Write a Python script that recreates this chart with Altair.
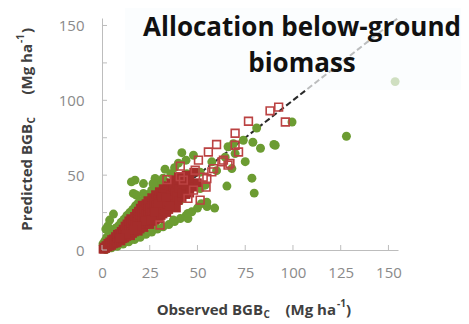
import altair as alt
import pandas as pd

# ---- data ----
# dense cloud of predicted-vs-observed points (red, filled look)
cloud_x = [0.5, 1, 1, 2, 2, 3, 3, 4, 4, 5, 5, 5, 6, 6, 7, 7, 7, 8, 8, 8, 9, 9,
           10, 10, 10, 11, 11, 11, 12, 12, 12, 13, 13, 13, 14, 14, 14, 14,
           15, 15, 15, 15, 16, 16, 16, 17, 17, 17, 18, 18, 18, 19, 19, 19, 19,
           20, 20, 20, 20, 21, 21, 21, 21, 22, 22, 22, 23, 23, 23,
           24, 24, 24, 24, 24, 25, 25, 25, 26, 26, 26, 26, 27, 27, 27,
           28, 28, 28, 28, 29, 29, 29, 30, 30, 30, 30, 31, 31, 31,
           32, 32, 32, 32, 33, 33, 33, 34, 34, 34, 35, 35, 35, 36, 36, 36,
           37, 37, 37, 38, 38, 38, 39, 39, 39, 40, 40, 40, 42, 42, 42,
           44, 44, 44, 46, 46, 48, 48, 50,
           22.5, 25.5, 27.5, 29.5, 31.5, 33.5, 35.5, 18.5, 16.5, 12.5, 9.5]
cloud_y = [0.5, 0.5, 2, 1, 3, 2, 4.5, 2.5, 5.5, 3, 5, 7, 4, 7.5, 4.5, 6.5, 9, 5, 8, 10.5, 6.5, 11,
           6, 9, 12.5, 7.5, 11, 14, 8, 12.5, 16, 9, 14, 17.5, 10, 13, 16, 19.5,
           9.5, 12, 18, 21, 11, 15, 20, 12, 17, 22.5, 13, 19, 24.5, 12.5, 15.5, 21, 26,
           14, 18, 23, 28, 16, 20, 25, 30, 15, 22, 27, 17, 24, 31,
           18, 21, 26, 29, 33, 17, 23, 28, 19, 25, 31, 35, 21, 28, 33,
           20, 24, 30, 37, 22, 27, 34, 21, 25, 32, 39, 23, 29, 36,
           24, 27, 33, 41, 26, 30, 38, 25, 35, 43, 27, 32, 40, 29, 37, 45,
           30, 34, 42, 31, 39, 47, 28, 36, 44, 33, 41, 49, 35, 38, 45,
           37, 43, 50, 38, 47, 42, 52, 45,
           19.5, 20, 25.5, 31, 35.5, 35, 29.5, 16, 13.5, 10.5, 8]

# other model (green circles)
green_x = [0.5, 1.5, 2.5, 4, 5.5, 7, 8.5, 10, 11.5, 13, 14.5, 16, 17.5, 19, 20.5, 22.5,
           2, 3, 4, 6,
           2, 5, 8, 11, 14, 17, 20, 23, 26, 29, 32, 35, 38, 41, 44, 47, 50, 52,
           24, 26, 28, 30, 32, 36, 38, 40, 44,
           99.5, 81, 90, 83, 79, 75, 78.5, 79.7, 65.4, 59, 41.8, 33, 17.3, 27, 16.4,
           45, 55, 66, 68.8, 74, 64.5, 51.4, 128, 153.5, 47.9, 69.7, 68, 60, 54,
           54.9, 45, 37.4, 27.8, 27.8, 21.7, 21.7, 44.4, 57.5, 51.4, 41, 46, 90.7,
           15.4, 18, 26.7]
green_y = [4, 6, 8.5, 10, 12, 14.5, 16, 18.5, 20.5, 23, 25, 27, 29.5, 31.5, 33, 35,
           14, 16, 20, 24,
           0.3, 1.5, 2.5, 4, 5.5, 7, 8.5, 10.5, 12, 14, 15.5, 17, 19, 21, 23, 25.5, 28, 31,
           37, 40, 42, 45, 48, 51, 55, 58, 60,
           85.5, 81.5, 70.5, 68, 72, 59, 48, 38, 42.7, 28, 65, 54, 46.7, 44.4, 37.8,
           21, 29, 69, 71, 73.3, 62, 52, 76, 112.5, 63.3, 64.4, 54.4, 53, 43.3,
           32, 24.4, 20, 15.6, 47.8, 44.4, 37.8, 51, 58.9, 41, 33.3, 44.4, 70,
           45.5, 36.7, 44.4]

# red open squares away from the cloud
sq_x = [88, 92.5, 96, 76.7, 69.7, 60, 69.7, 71.5, 55.7, 50.5, 41, 34, 54.5, 45, 30.4,
        58.4, 63.6, 66, 62.8, 67, 57.5, 51.4, 47.9, 54.9, 42.6, 48.8, 53, 41]
sq_y = [93, 95.5, 85.5, 86, 78, 70.5, 70, 65.5, 65.5, 60, 56, 47, 42, 34.5, 16.7,
        54.4, 60, 56.7, 58.9, 57.8, 52.2, 33.3, 40, 47.8, 46.7, 53.3, 48.7, 49]

line_x = [0, 155]
line_y = [0, 155]

tick_values = [0, 25, 50, 75, 100, 125, 150]

GREEN = "#6c9c32"
RED = "#a52d2b"
FONT = "Open Sans"

xs = alt.Scale(domain=[0, 155], nice=False)
ys = alt.Scale(domain=[0, 155], nice=False)

xaxis = alt.Axis(values=tick_values, title=None, ticks=False, grid=False,
                 labelFontSize=15, labelColor="#8a8a8a", labelFont=FONT,
                 domainColor="#bdbdbd", labelPadding=15, labelFlush=False)
yaxis = alt.Axis(values=tick_values, title=None, ticks=False, grid=False,
                 labelFontSize=15, labelColor="#8a8a8a", labelFont=FONT,
                 domainColor="#bdbdbd", labelPadding=18, labelFlush=False)

line = alt.Chart(pd.DataFrame({"x": line_x, "y": line_y})).mark_line(
    color="#2a2a2a", strokeWidth=2, strokeDash=[6, 3]
).encode(x=alt.X("x:Q", scale=xs, axis=xaxis), y=alt.Y("y:Q", scale=ys, axis=yaxis))

green = alt.Chart(pd.DataFrame({"x": green_x, "y": green_y})).mark_point(
    shape="circle", filled=True, color=GREEN, size=80, opacity=1
).encode(x=alt.X("x:Q", scale=xs), y=alt.Y("y:Q", scale=ys))

cloud = alt.Chart(pd.DataFrame({"x": cloud_x, "y": cloud_y})).mark_point(
    shape="square", filled=True, color=RED, size=75, opacity=1
).encode(x=alt.X("x:Q", scale=xs), y=alt.Y("y:Q", scale=ys))

squares = alt.Chart(pd.DataFrame({"x": sq_x, "y": sq_y})).mark_point(
    shape="square", filled=False, color="#bb4242", size=60, strokeWidth=1.6, opacity=1
).encode(x=alt.X("x:Q", scale=xs), y=alt.Y("y:Q", scale=ys))

tdf = pd.DataFrame({"t": tick_values})
yticks = alt.Chart(tdf).mark_rule(color="#bdbdbd").encode(
    y=alt.Y("t:Q", scale=ys), x=alt.value(0), x2=alt.value(5))
xticks = alt.Chart(tdf).mark_rule(color="#bdbdbd").encode(
    x=alt.X("t:Q", scale=xs), y=alt.value(232), y2=alt.value(227))

box = alt.Chart(pd.DataFrame({"a": [1]})).mark_rect(
    color="#fafcfe", fill="#fafcfe", fillOpacity=0.7, strokeWidth=0
).encode(x=alt.value(23), x2=alt.value(367), y=alt.value(-10), y2=alt.value(72))


def txt(s, x, y, size, weight="bold", color="#404040", align="center", angle=0):
    return alt.Chart(pd.DataFrame({"s": [s]})).mark_text(
        font=FONT, fontSize=size, fontWeight=weight, color=color, align=align,
        baseline="middle", angle=angle
    ).encode(text="s:N", x=alt.value(x), y=alt.value(y))


title1 = txt("Allocation below-ground", 200, 10, 26, color="#111111")
title2 = txt("biomass", 200, 46, 26, color="#111111")

# x-axis title with subscript / superscript
xt = [
    txt("Observed BGB", 161, 292, 15, align="right"),
    txt("C", 161.5, 297, 10, align="left"),
    txt("(Mg ha", 234, 292, 15, align="right"),
    txt("-1", 235, 286, 10, align="left"),
    txt(")", 244, 292, 15, align="left"),
]
# y-axis title (rotated)
yt = [
    txt("Predicted BGB", -75, 106, 15, align="right", angle=270),
    txt("C", -70, 105.5, 10, align="left", angle=270),
    txt("(Mg ha", -75, 26, 15, align="right", angle=270),
    txt("-1", -81, 25, 10, align="left", angle=270),
    txt(")", -75, 15, 15, align="left", angle=270),
]

chart = alt.layer(
    line, green, cloud, squares, yticks, xticks, box, title1, title2, *xt, *yt
).properties(
    width=296, height=232,
    padding={"left": 94, "top": 10, "right": 63, "bottom": 70},
    autosize=alt.AutoSizeParams(type="none"),
).configure_view(stroke=None)

chart.save("out.html", embed_options={"renderer": "svg", "actions": False})
